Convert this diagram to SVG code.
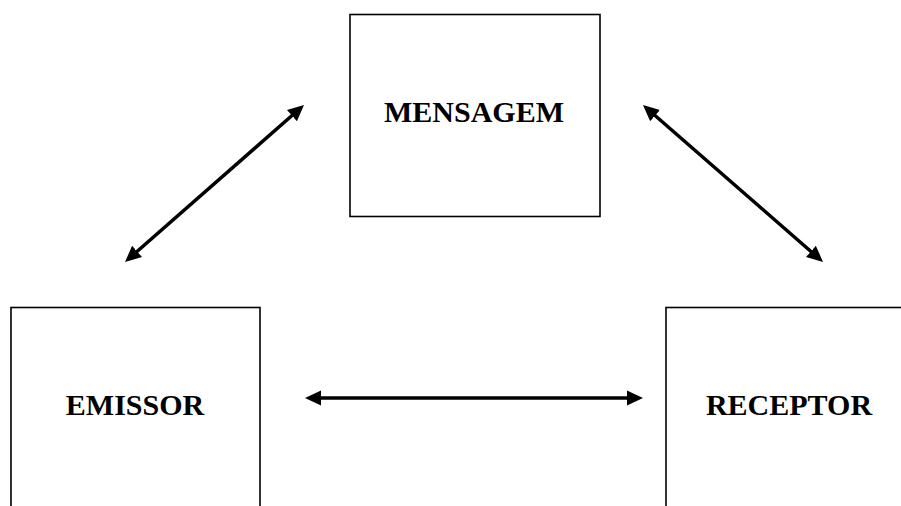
<svg xmlns="http://www.w3.org/2000/svg" width="901" height="506" viewBox="0 0 901 506">
<style>
.box{fill:#fff;stroke:#000;stroke-width:1.6}
.lbl{font-family:"Liberation Serif","Times New Roman",serif;font-weight:bold;font-size:30px;fill:#000;text-anchor:middle}
.conn{stroke:#000;stroke-width:3.5;fill:none;marker-start:url(#ah);marker-end:url(#ah)}
</style>
<defs>
<marker id="ah" markerUnits="userSpaceOnUse" markerWidth="17" markerHeight="16" refX="5" refY="7.5" orient="auto-start-reverse" viewBox="0 0 17 15">
<path d="M0,0 L16,7.5 L0,15 z" fill="#000"/>
</marker>
</defs>
<rect width="901" height="506" fill="#fff"/>
<g id="mensagem">
<rect class="box" x="350" y="14.5" width="250" height="202"/>
<text class="lbl" x="474" y="122">MENSAGEM</text>
</g>
<g id="emissor">
<rect class="box" x="11" y="307.5" width="249" height="210"/>
<text class="lbl" x="135" y="415">EMISSOR</text>
</g>
<g id="receptor">
<rect class="box" x="666" y="307.5" width="250" height="210"/>
<text class="lbl" x="789" y="415">RECEPTOR</text>
</g>
<g id="connectors">
<line class="conn" x1="133.3" y1="254.7" x2="295.7" y2="112.3"/>
<line class="conn" x1="651.3" y1="112.3" x2="814.7" y2="254.7"/>
<line class="conn" x1="316" y1="398" x2="632" y2="398"/>
</g>
</svg>
